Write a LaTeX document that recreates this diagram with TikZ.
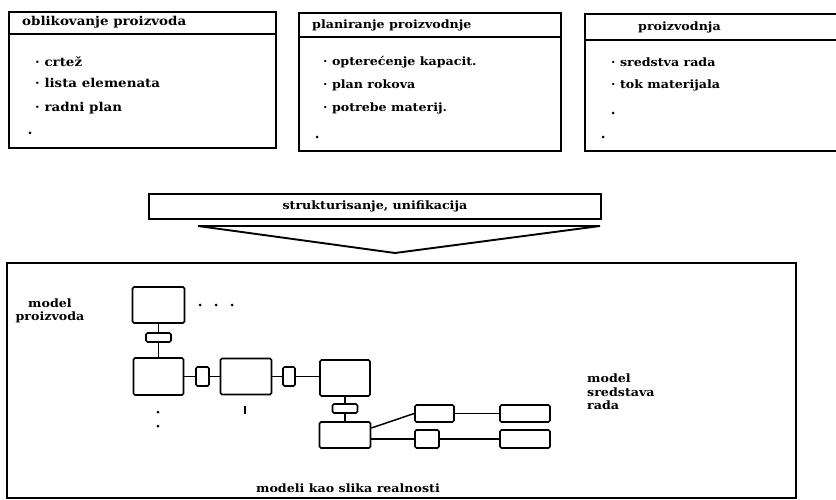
\documentclass[tikz,border=0pt]{standalone}
\usepackage{fontspec}
\setmainfont[FakeStretch=1.1]{DejaVu Serif}
\begin{document}
\begin{tikzpicture}[x=1pt,y=-1pt,
  frame/.style={draw, line width=1.9pt, inner sep=0pt},
  blk/.style={draw, line width=1.7pt, rounded corners=1.5pt, inner sep=0pt},
  conn/.style={line width=1.5pt},
  txt/.style={anchor=west, inner sep=0pt, font=\fontsize{11.5}{13.5}\selectfont\bfseries},
  bigtxt/.style={txt, font=\fontsize{12.2}{14}\selectfont\bfseries},
  dotm/.style={fill, circle, inner sep=0pt, minimum size=3pt}]
\useasboundingbox (0,0) rectangle (836,500);
% top boxes
\node[frame, anchor=north west, minimum width=267pt, minimum height=136pt] (b1) at (8,11) {};
\draw[frame] (b1.west |- 0,34) -- (b1.east |- 0,34);
\node[bigtxt] (t1) at (22,22.5) {oblikovanje proizvoda};
\node[bigtxt] (i11) at (35,62) {· crtež};
\node[bigtxt] (i12) at (35,83) {· lista elemenata};
\node[bigtxt] (i13) at (35,108) {· radni plan};
\node[dotm] (d1) at (30,133) {};

\node[frame, anchor=north west, minimum width=262pt, minimum height=138pt] (b2) at (298,12) {};
\draw[frame] (b2.west |- 0,37) -- (b2.east |- 0,37);
\node[txt] (t2) at (312,25) {planiranje proizvodnje};
\node[txt] (i21) at (323,62) {· opterećenje kapacit.};
\node[txt] (i22) at (323,85) {· plan rokova};
\node[txt] (i23) at (323,108) {· potrebe materij.};
\node[dotm] (d2) at (317,137) {};

\node[frame, anchor=north west, minimum width=260pt, minimum height=137pt] (b3) at (584,13) {};
\draw[frame] (b3.west |- 0,40) -- (b3.east |- 0,40);
\node[txt] (t3) at (638,27) {proizvodnja};
\node[txt] (i31) at (611,62) {· sredstva rada};
\node[txt] (i32) at (611,85) {· tok materijala};
\node[dotm] (d3) at (613,113) {};
\node[dotm] (d4) at (603,137) {};

% structuring band
\node[frame, anchor=north west, minimum width=452pt, minimum height=25pt] (S) at (148,193) {};
\node[txt, anchor=center] (St) at (S.center) {strukturisanje, unifikacija};
\coordinate (T1) at (198,226);
\coordinate (T2) at (600,226);
\coordinate (T3) at (395,253);
\draw[line width=1.9pt, line join=miter] (T1) -- (T2) -- (T3) -- cycle;

% bottom frame
\node[frame, anchor=north west, minimum width=789pt, minimum height=235pt] (M) at (6,262) {};
\node[txt, anchor=center, align=center] (mp) at (50,311) {model\\proizvoda};
\node[txt, align=left, anchor=west] (ms) at (587,392) {model\\sredstava\\rada};
\node[txt, anchor=center] (mk) at (348,488) {modeli kao slika realnosti};

% model blocks
\node[blk, minimum width=52pt, minimum height=36pt] (A) at (158.5,305) {};
\node[blk, minimum width=25pt, minimum height=9pt] (s1) at (158.5,337.5) {};
\node[blk, minimum width=50pt, minimum height=37pt] (B) at (158.5,376.5) {};
\node[blk, minimum width=13pt, minimum height=19pt] (s2) at (202.5,376.5) {};
\node[blk, minimum width=51pt, minimum height=36pt] (C) at (246,376.5) {};
\node[blk, minimum width=12pt, minimum height=19pt] (s3) at (289,376.5) {};
\node[blk, minimum width=50pt, minimum height=36pt] (D) at (345,378) {};
\node[blk, minimum width=25pt, minimum height=9pt] (s4) at (345,408.5) {};
\node[blk, minimum width=51pt, minimum height=26pt] (E) at (345,435) {};
\node[blk, minimum width=39pt, minimum height=17pt] (F) at (434.5,413.5) {};
\node[blk, minimum width=24pt, minimum height=18pt] (G) at (427,439) {};
\node[blk, minimum width=50pt, minimum height=17pt] (H) at (525,413.5) {};
\node[blk, minimum width=50pt, minimum height=18pt] (I) at (525,439) {};

\draw[conn] (A) -- (s1);
\draw[conn] (s1) -- (B);
\draw[conn] (B) -- (s2);
\draw[conn] (s2) -- (C);
\draw[conn] (C) -- (s3);
\draw[conn] (s3.east) -- (s3.east -| D.west);
\draw[conn] (D) -- (s4);
\draw[conn] (s4) -- (E);
\draw[conn] ([yshift=7pt]E.east) -- (F.west);
\draw[conn] (G.west -| E.east) -- (G.west);
\draw[conn] (F) -- (H);
\draw[conn] (G) -- (I);

% dots
\node[dotm] (p1) at (200,305) {};
\node[dotm] (p2) at (216,305) {};
\node[dotm] (p3) at (232,305) {};
\node[dotm] (p4) at (158,412) {};
\node[dotm] (p5) at (158,426) {};
\coordinate (c1) at (245,406);
\coordinate (c2) at (245,414);
\draw[line width=1.6pt] (c1) -- (c2);
\end{tikzpicture}
\end{document}
